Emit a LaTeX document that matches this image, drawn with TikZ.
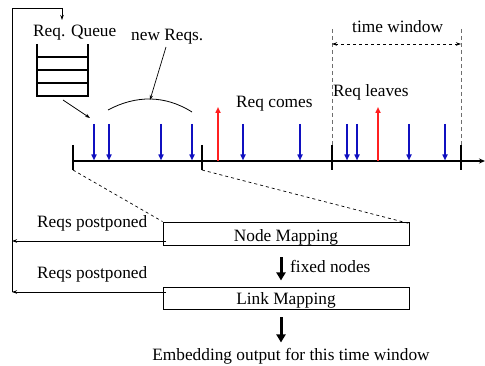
\documentclass[tikz,border=0pt]{standalone}
\usepackage{fontspec}
\setmainfont{Liberation Serif}
\usetikzlibrary{arrows.meta}
\definecolor{reqblue}{RGB}{16,16,192}
\definecolor{reqred}{RGB}{255,32,32}
\definecolor{dgray}{RGB}{110,110,110}
\begin{document}
\begin{tikzpicture}[x=1pt,y=-1pt,
  lbl/.style={inner sep=0pt,anchor=base west,font=\fontsize{17.3}{20}\selectfont},
  arrin/.style={reqblue,line width=1.6pt,-{Triangle[length=6pt,width=5pt]}},
  arrout/.style={reqred,line width=1.6pt,-{Triangle[length=6pt,width=5pt]}},
  tick/.style={line width=1.2pt},
  thin/.style={line width=0.7pt,-{Stealth[length=5pt,width=3.5pt]}},
  stepbox/.style={draw,line width=0.9pt,minimum width=246pt,inner sep=0pt,text depth=0pt,font=\fontsize{17.3}{20}\selectfont},
  bigarr/.style={line width=3pt,-{Triangle[length=8pt,width=9pt]}},
  back/.style={line width=0.8pt,-{Stealth[length=5pt,width=3.5pt]}}]
\useasboundingbox (0,0) rectangle (485,366);
% queue
\draw[line width=1.2pt] (37,44) -- (37,96) -- (88,96) -- (88,44);
\draw[line width=1.2pt] (37,57) -- (88,57) (37,70) -- (88,70) (37,83) -- (88,83);
\coordinate (qout) at (63,100);
\coordinate (qin) at (90,118);
\node[lbl] (rq) at (33,37) {Req. Queue};
\node[lbl] (nr) at (131,41) {new Reqs.};
\node[lbl] (rc) at (236,108) {Req comes};
\node[lbl] (rl) at (333,97) {Req leaves};
\node[lbl] (tw) at (352,33) {time window};
% axis
\coordinate (a0) at (73,161);
\coordinate (a1) at (485,161);
\draw[line width=1.2pt,-{Stealth[length=6pt,width=5pt]}] (a0) -- (a1);
\foreach \x/\n in {73/t1,202/t2,332/t3,461/t4}{
  \coordinate (\n top) at (\x,145);
  \coordinate (\n bot) at (\x,170);
  \draw[tick] (\n top) -- (\n bot);
}
% arrivals
\foreach \x in {94,109,161,192,243,300,347,357,409,445}
  \draw[arrin] (\x,124) -- (\x,160.5);
\foreach \x in {218,378}
  \draw[arrout] (\x,161) -- (\x,107);
% arc for new reqs
\coordinate (arcL) at (108,110);
\coordinate (arcR) at (192,112);
\coordinate (arcP) at (150,100);
\draw[line width=0.8pt] (arcL) .. controls (136,95) and (165,95) .. (arcR);
\draw[thin] (166,47) -- (arcP);
\draw[thin] (qout) -- (qin);
% time window
\coordinate (tw1) at (332,29);
\coordinate (tw2) at (461,29);
\draw[dgray,dashed,line width=1pt,dash pattern=on 4pt off 3pt] (tw1) -- (t3top) (tw2) -- (t4top);
\draw[dashed,line width=0.8pt,{Stealth[length=5pt,width=3.5pt]}-{Stealth[length=5pt,width=3.5pt]}] (332,44) -- (461,44);
% mapping boxes
\node[stepbox,minimum height=23pt,text height=17pt] (nm) at (286,233.5) {Node Mapping};
\node[stepbox,minimum height=22pt,text height=14pt] (lm) at (286,298) {Link Mapping};
\draw[dashed,line width=0.7pt] (t1bot) -- (nm.north west);
\draw[dashed,line width=0.7pt] (t2bot) -- ([yshift=-2pt]nm.north east);
\node[lbl] (fx) at (290,273) {fixed nodes};
\draw[bigarr] (nm.south -| 281,0) ++(0,12) -- ++(0,23);
\node[lbl,anchor=base] (em) at (291,360) {Embedding output for this time window};
\draw[bigarr] (lm.south -| 281,0) ++(0,8) -- ++(0,25);
% feedback
\node[lbl] (p1) at (37,228) {Reqs postponed};
\node[lbl] (p2) at (37,279) {Reqs postponed};
\coordinate (L1) at (12,241);
\coordinate (L2) at (12,292);
\coordinate (Ltop) at (12,8);
\coordinate (Qtop) at (62,8);
\coordinate (Qarr) at (62,20);
\draw[back] (166,241) -- (L1);
\draw[back] (166,292) -- (L2);
\draw[line width=0.8pt] (L2) -- (Ltop) -- (Qtop);
\draw[back] (Qtop) -- (Qarr);
\end{tikzpicture}
\end{document}
